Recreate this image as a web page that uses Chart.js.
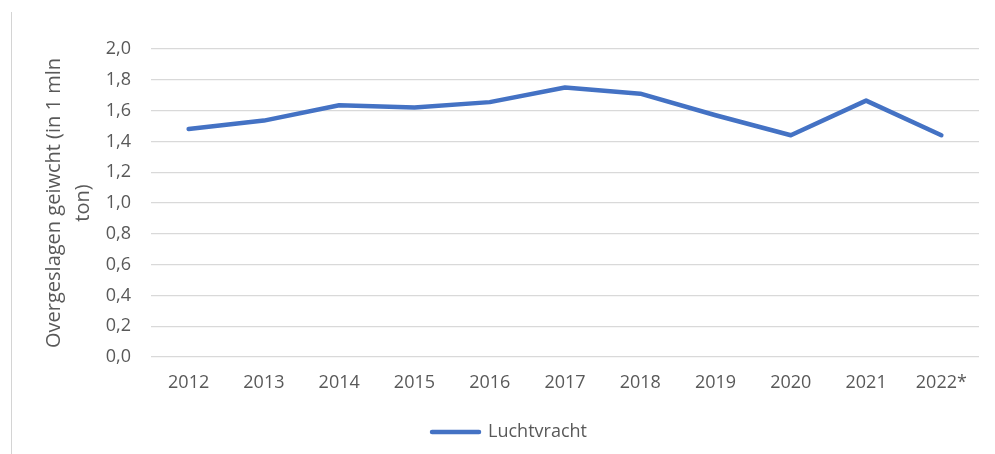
<!DOCTYPE html>
<html>
<head>
<meta charset="utf-8">
<script src="https://cdn.jsdelivr.net/npm/chart.js@4"></script>
<style>
  html, body { margin: 0; padding: 0; background: #fff; }
  #wrap { position: relative; width: 995px; height: 454px; }
  #frame { position: absolute; left: 11px; top: 12px; width: 0; height: 442px; border-left: 1px solid #d4d4d4; }
  canvas { position: absolute; left: 0; top: 0; }
</style>
</head>
<body>
<div id="wrap">
  <div id="frame"></div>
  <canvas id="chart" width="995" height="454"></canvas>
</div>
<script>
const years = ['2012', '2013', '2014', '2015', '2016', '2017', '2018', '2019', '2020', '2021', '2022*'];
const luchtvracht = [1.48, 1.535, 1.635, 1.62, 1.655, 1.75, 1.71, 1.57, 1.44, 1.665, 1.44];
const yTitle = ['Overgeslagen geiwcht (in 1 mln', 'ton)'];

const textColor = '#595959';
const fontFamily = "'Open Sans', sans-serif";

new Chart(document.getElementById('chart').getContext('2d'), {
    type: 'line',
    data: {
        labels: years,
        datasets: [{
            label: 'Luchtvracht',
            data: luchtvracht,
            borderColor: '#4472C4',
            backgroundColor: '#4472C4',
            borderWidth: 4.5,
            pointRadius: 0,
            tension: 0,
            borderJoinStyle: 'round',
            borderCapStyle: 'round'
        }]
    },
    options: {
        responsive: false,
        animation: false,
        layout: { padding: { left: 40, right: 16, top: 49, bottom: 3 } },
        scales: {
            x: {
                offset: true,
                grid: { display: false, drawTicks: false },
                border: { display: false },
                ticks: { color: textColor, font: { family: fontFamily, size: 18 }, padding: 15, maxRotation: 0 },
                afterFit: (scale) => { scale.height = 56; }
            },
            y: {
                min: 0,
                max: 2,
                grid: { color: '#d9d9d9', lineWidth: 1.3, drawTicks: false },
                border: { display: false },
                ticks: {
                    stepSize: 0.2,
                    color: textColor,
                    padding: 20,
                    font: { family: fontFamily, size: 18 },
                    callback: (v) => Number(v).toFixed(1).replace('.', ',')
                },
                title: {
                    display: true,
                    text: yTitle,
                    color: textColor,
                    font: { family: fontFamily, size: 20, lineHeight: '29px' },
                    padding: { top: 0, bottom: 0 }
                },
                afterFit: (scale) => { scale.width = 111; }
            }
        },
        plugins: {
            legend: {
                position: 'bottom',
                labels: {
                    color: textColor,
                    font: { family: fontFamily, size: 18 },
                    boxWidth: 47,
                    boxHeight: 0,
                    padding: 10
                }
            },
            tooltip: { enabled: false }
        }
    }
});
</script>
</body>
</html>
